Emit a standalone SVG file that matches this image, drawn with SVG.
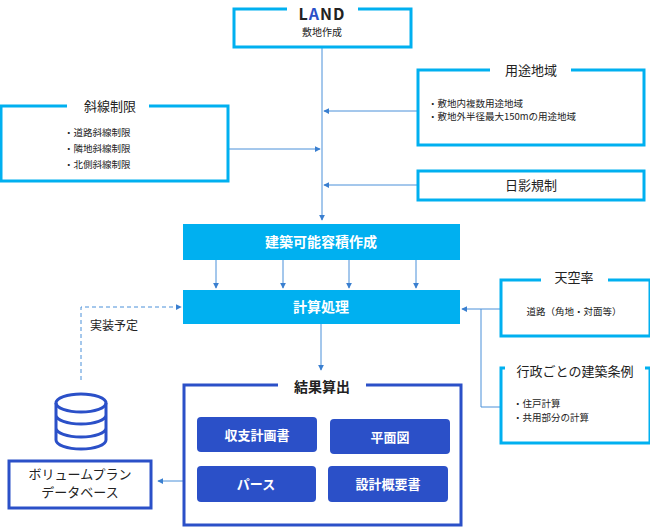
<svg xmlns="http://www.w3.org/2000/svg" width="650" height="527" viewBox="0 0 650 527">
<defs>
<style>
text{font-family:"Noto Sans CJK JP","Noto Sans",sans-serif;fill:#222}
.lb{fill:none;stroke:#00b0f0;stroke-width:3}
.db{fill:none;stroke:#2b50c8;stroke-width:3}
.ln{fill:none;stroke:#4a90d9;stroke-width:1}
.t{font-size:13px;text-anchor:middle}
.s{font-size:9.5px}
.w{fill:#fff;font-weight:bold;text-anchor:middle}
.ib{fill:#2b50c8}
</style>
<marker id="ah" viewBox="0 0 8 8" refX="7" refY="4" markerWidth="6" markerHeight="6" orient="auto"><path d="M0,0L8,4L0,8z" fill="#3a7fd0"/></marker>
</defs>
<rect width="650" height="527" fill="#fff"/>
<g id="connectors">
<path class="ln" d="M322,48V220" marker-end="url(#ah)"/>
<path class="ln" d="M417,111H324" marker-end="url(#ah)"/>
<path class="ln" d="M228,149H320" marker-end="url(#ah)"/>
<path class="ln" d="M417,185H324" marker-end="url(#ah)"/>
<path class="ln" d="M216,260V288" marker-end="url(#ah)"/><path class="ln" d="M283,260V288" marker-end="url(#ah)"/><path class="ln" d="M349,260V288" marker-end="url(#ah)"/><path class="ln" d="M416,260V288" marker-end="url(#ah)"/>
<path class="ln" d="M500,309H462" marker-end="url(#ah)"/>
<path class="ln" d="M481,309V407H500"/>
<path class="ln" d="M321,324V370" marker-end="url(#ah)"/>
<path class="ln" d="M183,481H158" marker-end="url(#ah)"/>
<path class="ln" d="M81,380V307H181" stroke-dasharray="4,3" marker-end="url(#ah)"/>
<text x="90" y="330" font-size="12">実装予定</text>
</g>
<g id="land">
<path class="lb" d="M287,9H234V47H411V9H358"/>
<text x="322" y="20" font-size="16" font-weight="bold" text-anchor="middle" font-family="Lato,sans-serif" letter-spacing="1">L<tspan fill="#2b50c8">A</tspan>ND</text>
<text x="322" y="36" font-size="10" text-anchor="middle">敷地作成</text>
</g>
<g id="youto">
<path class="lb" d="M490,70H418V145H644V70H571"/>
<text x="531" y="75" class="t">用途地域</text>
<text x="428" y="107" class="s">・敷地内複数用途地域</text>
<text x="428" y="120" class="s">・敷地外半径最大150mの用途地域</text>
</g>
<g id="shasen">
<path class="lb" d="M67,106H1V181H228V106H149"/>
<text x="110" y="111" class="t">斜線制限</text>
<text x="64" y="136" class="s">・道路斜線制限</text>
<text x="64" y="152" class="s">・隣地斜線制限</text>
<text x="64" y="168" class="s">・北側斜線制限</text>
</g>
<g id="nichiei">
<rect class="lb" x="418" y="171" width="226" height="29"/>
<text x="531" y="190" class="t">日影規制</text>
</g>
<g id="kenchiku">
<rect x="183" y="224" width="277" height="36" fill="#00b0f0"/>
<text x="321" y="247" class="w" font-size="14">建築可能容積作成</text>
</g>
<g id="keisan">
<rect x="183" y="290" width="277" height="34" fill="#00b0f0"/>
<text x="321" y="312" class="w" font-size="14">計算処理</text>
</g>
<g id="tenku">
<path class="lb" d="M541,280H501V336H650V280H608"/>
<text x="574" y="282" class="t">天空率</text>
<text x="574" y="315" text-anchor="middle" class="s">道路（角地・対面等）</text>
</g>
<g id="gyosei">
<path class="lb" d="M505,368H501V443H650V368H645"/>
<text x="575" y="376" class="t" font-size="14">行政ごとの建築条例</text>
<text x="513" y="407" class="s">・住戸計算</text>
<text x="513" y="421" class="s">・共用部分の計算</text>
</g>
<g id="kekka">
<path class="db" d="M278,385H184V525H461V385H366"/>
<text x="322" y="392" font-size="14" font-weight="bold" text-anchor="middle">結果算出</text>
<rect class="ib" x="197" y="417" width="120" height="35" rx="4"/>
<text x="257" y="440" class="w" font-size="13">収支計画書</text>
<rect class="ib" x="330" y="419" width="120" height="35" rx="4"/>
<text x="390" y="442" class="w" font-size="13">平面図</text>
<rect class="ib" x="197" y="466" width="119" height="36" rx="4"/>
<text x="256" y="489" class="w" font-size="13">パース</text>
<rect class="ib" x="328" y="466" width="120" height="36" rx="4"/>
<text x="388" y="489" class="w" font-size="13">設計概要書</text>
</g>
<g id="dbicon" fill="none" stroke="#2b50c8" stroke-width="3">
<ellipse cx="81" cy="403" rx="25" ry="9"/>
<path d="M56,403V440A25,9 0 0 0 106,440V403M56,415A25,9 0 0 0 106,415M56,428A25,9 0 0 0 106,428"/>
</g>
<g id="volume">
<rect class="db" x="9" y="461" width="142" height="47"/>
<text x="80" y="479" class="t" font-size="11.5">ボリュームプラン</text>
<text x="80" y="497" class="t" font-size="11.5">データベース</text>
</g>
</svg>
